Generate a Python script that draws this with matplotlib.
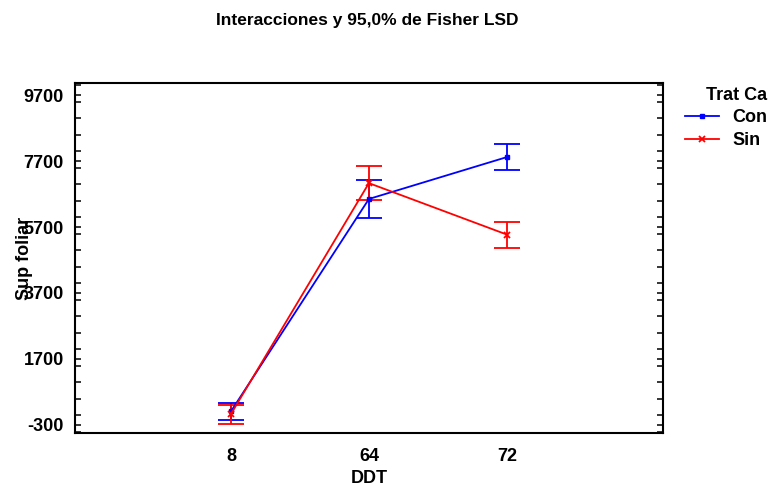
import matplotlib
matplotlib.use("Agg")
import matplotlib.pyplot as plt
from matplotlib.lines import Line2D
from matplotlib.ticker import MultipleLocator

plt.rcParams['font.family'] = ['Liberation Sans', 'DejaVu Sans']
plt.rcParams['font.weight'] = 'bold'
plt.rcParams['axes.labelweight'] = 'bold'

# medias y semiamplitud LSD por DDT
ddt = ["8", "64", "72"]
con_mean = [110, 6550, 7820]
con_lsd = [260, 575, 395]
sin_mean = [30, 7030, 5470]
sin_lsd = [290, 515, 395]

pos = list(range(1, len(ddt) + 1))
azul = "#0000ff"
rojo = "#ff0000"

fig = plt.figure(figsize=(7.69, 4.87), dpi=100)
ax = fig.add_axes([0.0975, 0.111, 0.7645, 0.7185])

ax.errorbar(pos, con_mean, yerr=con_lsd, color=azul, lw=1.3,
            marker="s", ms=3.5, capsize=9.5, capthick=1.3)
ax.errorbar(pos, sin_mean, yerr=sin_lsd, color=rojo, lw=1.3,
            marker="x", ms=5, mew=1.3, capsize=9.5, capthick=1.3)

ax.set_xlim(-0.13, 4.13)
ax.set_ylim(-542, 10064)
ax.set_xticks(pos)
ax.set_xticklabels(ddt)
ax.set_yticks([-300, 1700, 3700, 5700, 7700, 9700])
ax.set_yticklabels(["-300", "1700", "3700", "5700", "7700", "9700"])
ax.yaxis.set_minor_locator(MultipleLocator(500))
ax.tick_params(axis="x", length=0, labelsize=13, pad=10.5)
ax.tick_params(axis="y", which="both", direction="in", length=4, width=1.1,
               labelsize=13, right=True, pad=8)
for s in ax.spines.values():
    s.set_linewidth(1.5)

ax.set_xlabel("DDT", fontsize=13, labelpad=4)
ax.set_ylabel("Sup foliar", fontsize=13, labelpad=-7)
fig.text(0.478, 0.958, "Interacciones y 95,0% de Fisher LSD", ha="center",
         va="center", fontsize=12.5, fontweight="bold")

handles = [
    Line2D([], [], color=azul, lw=1.3, marker="s", ms=3.5),
    Line2D([], [], color=rojo, lw=1.3, marker="x", ms=5, mew=1.3),
]
leg = fig.legend(handles, ["Con", "Sin"], loc="upper left",
                 bbox_to_anchor=(0.8908, 0.8213), bbox_transform=fig.transFigure,
                 frameon=False, title="Trat Ca", fontsize=13, title_fontsize=13,
                 handlelength=1.9, handletextpad=0.72, labelspacing=0.3,
                 borderpad=0, borderaxespad=0, alignment="right")
leg.get_title().set_fontweight("bold")

fig.savefig("out.png", dpi=100)
